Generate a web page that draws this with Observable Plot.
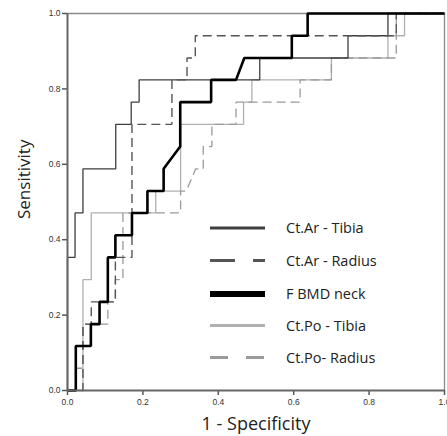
<!DOCTYPE html>
<html>
<head>
<meta charset="utf-8">
<script src="https://cdn.jsdelivr.net/npm/d3@7"></script>
<script src="https://cdn.jsdelivr.net/npm/@observablehq/plot@0.6"></script>
<style>
  body { margin: 0; background: #fff; }
  #wrap { position: relative; width: 447px; height: 436px; }
  #wrap svg { display: block; }
  #legend { position: absolute; left: 0; top: 0; pointer-events: none; }
</style>
</head>
<body>
<div id="wrap"></div>
<script>
// ROC step curves: x = 1 - Specificity, y = Sensitivity
const ctArTibiaX = [0, 0, 0.02, 0.02, 0.041, 0.041, 0.128, 0.128, 0.169, 0.169, 0.19, 0.19, 0.51, 0.51, 0.744, 0.744, 0.85, 0.85, 1];
const ctArTibiaY = [0, 0.353, 0.353, 0.471, 0.471, 0.588, 0.588, 0.706, 0.706, 0.765, 0.765, 0.824, 0.824, 0.882, 0.882, 0.941, 0.941, 1, 1];

const ctArRadiusX = [0, 0.041, 0.041, 0.063, 0.063, 0.127, 0.127, 0.171, 0.171, 0.277, 0.277, 0.317, 0.317, 0.339, 0.339, 0.872, 0.872, 1];
const ctArRadiusY = [0, 0, 0.176, 0.176, 0.235, 0.235, 0.353, 0.353, 0.706, 0.706, 0.824, 0.824, 0.882, 0.882, 0.941, 0.941, 1, 1];

const fBmdNeckX = [0, 0.022, 0.022, 0.062, 0.062, 0.085, 0.085, 0.107, 0.107, 0.127, 0.127, 0.171, 0.171, 0.212, 0.212, 0.255, 0.255, 0.299, 0.299, 0.381, 0.381, 0.447, 0.469, 0.595, 0.595, 0.637, 0.637, 1];
const fBmdNeckY = [0, 0, 0.118, 0.118, 0.176, 0.176, 0.235, 0.235, 0.353, 0.353, 0.412, 0.412, 0.471, 0.471, 0.529, 0.529, 0.588, 0.647, 0.765, 0.765, 0.824, 0.824, 0.882, 0.882, 0.941, 0.941, 1, 1];

const ctPoTibiaX = [0, 0.041, 0.041, 0.063, 0.063, 0.234, 0.234, 0.30, 0.30, 0.467, 0.467, 0.489, 0.489, 0.70, 0.70, 0.85, 0.85, 0.894, 0.894, 1];
const ctPoTibiaY = [0, 0, 0.294, 0.294, 0.471, 0.471, 0.529, 0.529, 0.706, 0.706, 0.765, 0.765, 0.824, 0.824, 0.882, 0.882, 0.941, 0.941, 1, 1];

const ctPoRadiusX = [0, 0.022, 0.022, 0.041, 0.041, 0.107, 0.107, 0.127, 0.127, 0.147, 0.147, 0.30, 0.30, 0.315, 0.34, 0.36, 0.36, 0.383, 0.383, 0.447, 0.447, 0.617, 0.617, 0.70, 0.70, 0.872, 0.872, 1];
const ctPoRadiusY = [0, 0, 0.059, 0.059, 0.176, 0.176, 0.235, 0.235, 0.294, 0.294, 0.471, 0.471, 0.529, 0.529, 0.588, 0.588, 0.647, 0.647, 0.706, 0.706, 0.765, 0.765, 0.824, 0.824, 0.882, 0.882, 1, 1];

const seriesNames = ["Ct.Ar - Tibia", "Ct.Ar - Radius", "F BMD neck", "Ct.Po - Tibia", "Ct.Po- Radius"];
const tickValues = [0, 0.2, 0.4, 0.6, 0.8, 1.0];
const xLabel = "1 - Specificity";
const yLabel = "Sensitivity";

const styles = [
  {stroke: "#3f3f3f", width: 1.3, dash: null, lw: 3, ldash: null},
  {stroke: "#555555", width: 1.4, dash: "9,5", lw: 3, ldash: "25,18"},
  {stroke: "#000000", width: 2.6, dash: null, lw: 6, ldash: null},
  {stroke: "#b0b0b0", width: 1.3, dash: null, lw: 3, ldash: null},
  {stroke: "#9a9a9a", width: 1.3, dash: "9,5", lw: 3, ldash: "18,18"}
];

const xs = [ctArTibiaX, ctArRadiusX, fBmdNeckX, ctPoTibiaX, ctPoRadiusX];
const ys = [ctArTibiaY, ctArRadiusY, fBmdNeckY, ctPoTibiaY, ctPoRadiusY];
const series = seriesNames.map((name, i) => xs[i].map((x, j) => ({x, y: ys[i][j], name})));

// draw order: light ones first, dark on top
const order = [3, 4, 0, 1, 2];

const chart = Plot.plot({
  width: 447,
  height: 436,
  marginLeft: 67,
  marginRight: 3,
  marginTop: 13,
  marginBottom: 46,
  x: {domain: [0, 1]},
  y: {domain: [0, 1]},
  style: {fontFamily: "'Liberation Sans', Arial, sans-serif", background: "#fff"},
  marks: [
    Plot.ruleY([1], {stroke: "#8a8a8a", strokeWidth: 1.3}),
    Plot.ruleX([1], {stroke: "#8a8a8a", strokeWidth: 1.3}),
    ...order.map(i => Plot.line(series[i], {
      x: "x", y: "y",
      stroke: styles[i].stroke,
      strokeWidth: styles[i].width,
      strokeDasharray: styles[i].dash,
      strokeLinejoin: "miter",
      strokeLinecap: "butt"
    })),
    Plot.axisX({ticks: tickValues, tickFormat: d3.format(".1f"), tickSize: 5, tickPadding: 3, fontSize: 8.5, stroke: "#555", strokeWidth: 1.5, color: "#333", label: null}),
    Plot.axisY({ticks: tickValues, tickFormat: d3.format(".1f"), tickSize: 5, tickPadding: 2, fontSize: 8.5, stroke: "#555", strokeWidth: 1.5, color: "#333", label: null}),
    Plot.ruleX([0], {stroke: "#666", strokeWidth: 2}),
    Plot.ruleY([0], {stroke: "#666", strokeWidth: 2}),
    Plot.text([xLabel], {frameAnchor: "bottom", dy: 39, fontSize: 18, fill: "#222", fontFamily: "'Open Sans', sans-serif"}),
    Plot.text([yLabel], {frameAnchor: "left", dx: -43, dy: 17, rotate: -90, fontSize: 17, fill: "#222", fontFamily: "'Open Sans', sans-serif"})
  ]
});

const wrap = document.getElementById("wrap");
wrap.appendChild(chart);

// legend overlay inside the plot area
const leg = d3.select(wrap).append("svg")
  .attr("id", "legend").attr("width", 447).attr("height", 436);
const rowY = [228, 260.5, 294, 325.5, 357.5];
seriesNames.forEach((name, i) => {
  const g = leg.append("g").attr("transform", `translate(0,${rowY[i]})`);
  g.append("line")
    .attr("x1", 210).attr("x2", 265).attr("y1", 0).attr("y2", 0)
    .attr("stroke", styles[i].stroke)
    .attr("stroke-width", styles[i].lw)
    .attr("stroke-dasharray", styles[i].ldash);
  g.append("text")
    .attr("x", 286).attr("y", 0).attr("dy", "0.35em")
    .attr("font-family", "'Open Sans', sans-serif")
    .attr("font-size", 14.5)
    .attr("fill", "#222")
    .text(name);
});
</script>
</body>
</html>
